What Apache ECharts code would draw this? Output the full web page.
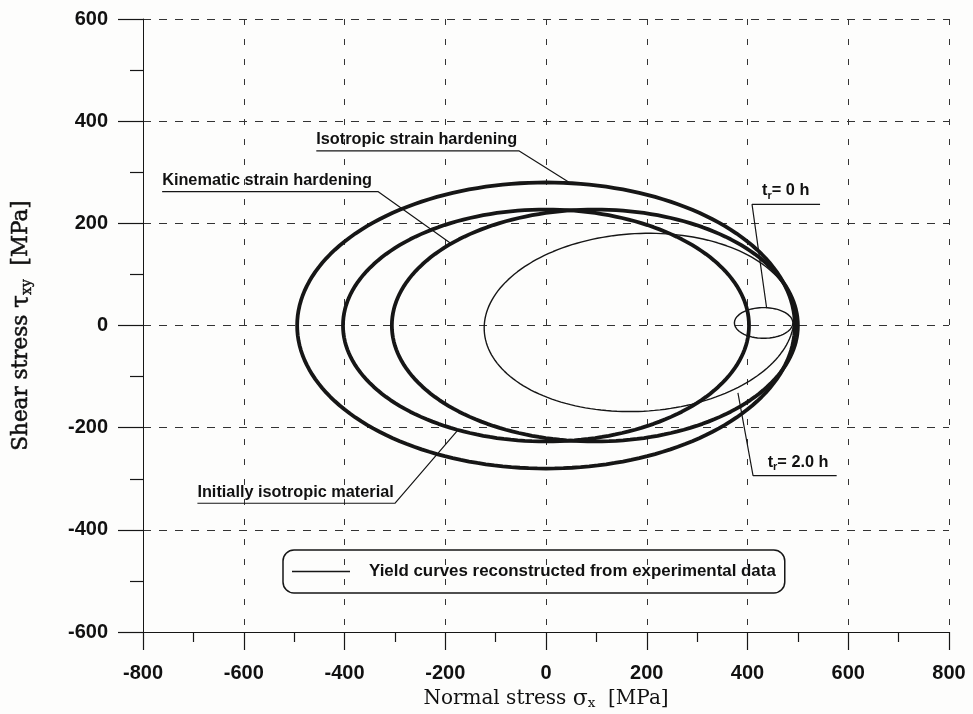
<!DOCTYPE html>
<html>
<head>
<meta charset="utf-8">
<script src="https://cdn.jsdelivr.net/npm/echarts@6/dist/echarts.min.js"></script>
<style>
  html, body { margin: 0; padding: 0; background: #fdfdfc; }
  #chart { width: 973px; height: 714px; }
</style>
</head>
<body>
<div id="chart"></div>
<script>
// Axis ranges and tick spacing (MPa)
const xTicks = [-800, -600, -400, -200, 0, 200, 400, 600, 800];
const yTicks = [-600, -400, -200, 0, 200, 400, 600];

// Yield curves as ellipses in the (σx, τxy) plane
const curveNames = ['Isotropic strain hardening', 'Kinematic strain hardening', 'Initially isotropic material', 't_r = 0 h', 't_r = 2.0 h'];
const centerX = [0, 97, 0, 432, 185];
const centerY = [0, 0, 0, 5, 6];
const semiX   = [494, 403, 403, 58, 308];
const semiY   = [280, 227, 227, 30, 174];
const tiltDeg = [0, 0, 0, 0, 3];
const fromExperiment = [false, false, false, true, true];

const experimentName = 'Yield curves reconstructed from experimental data';

// Annotation leaders: underline start, underline corner, point on the curve (MPa)
const noteLabels = ['Isotropic strain hardening', 'Kinematic strain hardening', 'Initially isotropic material', '{n|t}{s|r}{n|= 0 h}', '{n|t}{s|r}{n|= 2.0 h}'];
const noteX = [[-456, -54, 48], [-762, -333, -188], [-692, -300, -175], [544, 409, 438], [577, 411, 381]];
const noteY = [[342, 342, 279], [262, 262, 160], [-348, -348, -205], [237, 237, 34], [-294, -294, -132]];
const noteTextX = [-456, -762, -692, 429, 440];

const ink = '#161616';
const sans = 'Liberation Sans, Arial, sans-serif';
const serif = 'DejaVu Serif, serif';

function ellipsePoints(i) {
  const pts = [];
  const t = tiltDeg[i] * Math.PI / 180;
  for (let k = 0; k <= 360; k += 2) {
    const a = k * Math.PI / 180;
    const ex = semiX[i] * Math.cos(a);
    const ey = semiY[i] * Math.sin(a);
    pts.push([centerX[i] + ex * Math.cos(t) - ey * Math.sin(t),
              centerY[i] + ex * Math.sin(t) + ey * Math.cos(t)]);
  }
  return pts;
}

const series = [];
curveNames.forEach((nm, i) => {
  series.push({
    type: 'line',
    name: fromExperiment[i] ? experimentName : nm,
    data: ellipsePoints(i),
    symbol: 'none',
    showSymbol: false,
    smooth: false,
    silent: true,
    lineStyle: { color: ink, width: fromExperiment[i] ? 1.4 : 3.8 },
    itemStyle: { color: ink },
    z: fromExperiment[i] ? 4 : 3
  });
});
noteX.forEach((xs, i) => {
  series.push({
    type: 'line',
    name: 'leader' + i,
    data: xs.map((x, k) => [x, noteY[i][k]]),
    symbol: 'none',
    showSymbol: false,
    silent: true,
    lineStyle: { color: ink, width: 1.2 },
    z: 5
  });
});

const tickFont = { color: '#111', fontSize: 20, fontWeight: 'bold', fontFamily: sans };

const chart = echarts.init(document.getElementById('chart'));
chart.setOption({
  animation: false,
  backgroundColor: '#fdfdfc',
  grid: { left: 143, right: 24, top: 19, bottom: 82, containLabel: false, outerBoundsMode: 'none' },
  legend: {
    show: true,
    data: [experimentName],
    left: 283, top: 550,
    orient: 'horizontal',
    backgroundColor: 'rgba(0,0,0,0)',
    borderColor: ink, borderWidth: 1.5, borderRadius: 11,
    padding: [13, 9, 13, 9],
    icon: 'rect',
    itemWidth: 58, itemHeight: 1.4,
    itemStyle: { color: ink, borderWidth: 0 },
    selectedMode: false,
    textStyle: { color: '#111', fontSize: 16.9, fontWeight: 'bold', fontFamily: sans, padding: [0, 0, 0, 14] }
  },
  xAxis: {
    type: 'value',
    min: xTicks[0], max: xTicks[xTicks.length - 1], interval: 200,
    axisLine: { show: true, onZero: false, lineStyle: { color: ink, width: 1 } },
    axisTick: { show: true, length: 18, lineStyle: { color: ink, width: 1.2 } },
    minorTick: { show: true, splitNumber: 2, length: 10, lineStyle: { color: ink, width: 1.2 } },
    splitLine: { show: true, lineStyle: { color: '#333', width: 1, type: [6, 14] } },
    axisLabel: Object.assign({ margin: 31 }, tickFont),
    name: '{n|Normal stress }{g|σ}{s|x}{n|  [MPa]}',
    nameLocation: 'middle',
    nameGap: 56,
    nameTextStyle: {
      rich: {
        n: { fontSize: 20, fontFamily: serif, color: '#111', lineHeight: 22 },
        g: { fontSize: 22, fontFamily: serif, color: '#111', lineHeight: 22 },
        s: { fontSize: 13.5, fontFamily: serif, color: '#111', verticalAlign: 'bottom', lineHeight: 13 }
      }
    }
  },
  yAxis: {
    type: 'value',
    min: yTicks[0], max: yTicks[yTicks.length - 1], interval: 200,
    axisLine: { show: true, onZero: false, lineStyle: { color: ink, width: 1 } },
    axisTick: { show: true, length: 25, lineStyle: { color: ink, width: 1.2 } },
    minorTick: { show: true, splitNumber: 2, length: 13, lineStyle: { color: ink, width: 1.2 } },
    splitLine: { show: true, lineStyle: { color: '#333', width: 1, type: [8, 8] } },
    axisLabel: Object.assign({ margin: 35 }, tickFont),
    name: '{n|Shear stress }{g|τ}{s|xy}{n|  [MPa]}',
    nameLocation: 'middle',
    nameGap: 109,
    nameRotate: 90,
    nameTextStyle: {
      rich: {
        n: { fontSize: 21.5, fontFamily: serif, color: '#111', lineHeight: 25, textBorderColor: '#111', textBorderWidth: 0.5 },
        g: { fontSize: 23.5, fontFamily: serif, color: '#111', lineHeight: 25, textBorderColor: '#111', textBorderWidth: 0.5 },
        s: { fontSize: 14, fontFamily: serif, color: '#111', verticalAlign: 'bottom', lineHeight: 14, textBorderColor: '#111', textBorderWidth: 0.4 }
      }
    }
  },
  series: series
});

// Label text above each leader's underline
const graphics = noteLabels.map((txt, i) => {
  const p = chart.convertToPixel({ gridIndex: 0 }, [noteTextX[i], noteY[i][0]]);
  return {
    type: 'text',
    x: p[0], y: p[1] - 3,
    silent: true,
    z: 10,
    style: {
      text: txt,
      fill: '#111',
      font: 'bold 16.3px ' + sans,
      align: 'left', verticalAlign: 'bottom',
      textAlign: 'left', textVerticalAlign: 'bottom',
      rich: {
        n: { fontSize: 16.3, fontWeight: 'bold', fontFamily: sans, fill: '#111', lineHeight: 21 },
        s: { fontSize: 11, fontWeight: 'bold', fontFamily: sans, fill: '#111', verticalAlign: 'bottom', lineHeight: 11 }
      }
    }
  };
});
chart.setOption({ graphic: graphics });
</script>
</body>
</html>
